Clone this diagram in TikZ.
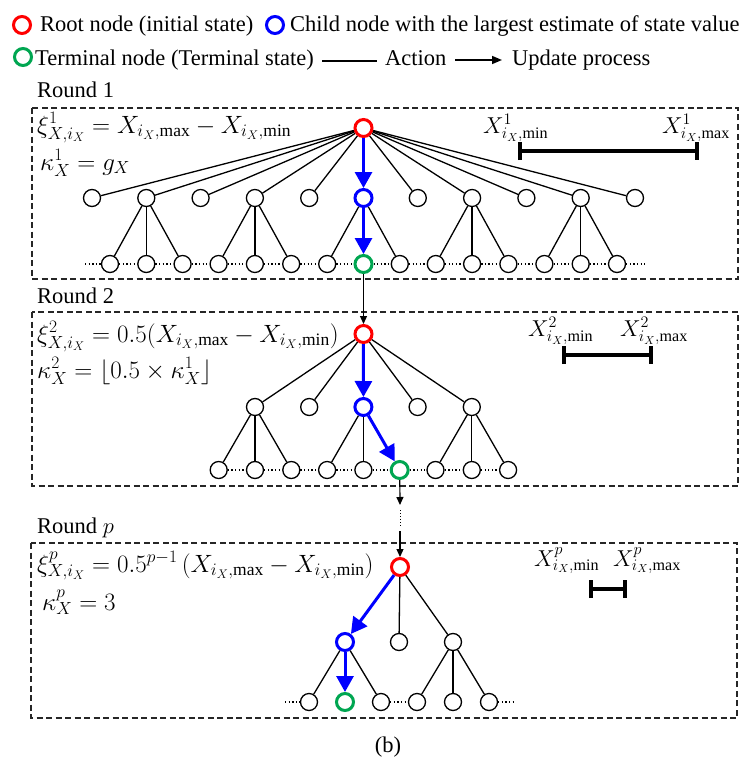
\RequirePackage{fix-cm}
\documentclass[tikz,border=0pt]{standalone}
\usepackage{fontspec}
\setmainfont{Liberation Serif}
\usetikzlibrary{arrows.meta}
\definecolor{tgreen}{RGB}{0,166,81}
\begin{document}
\begin{tikzpicture}[x=1pt,y=-1pt,
  nd/.style={circle,draw,line width=1.3pt,minimum size=17pt,inner sep=0pt,fill=white},
  rootn/.style={nd,draw=red,line width=3pt},
  bestn/.style={nd,draw=blue,line width=3pt},
  termn/.style={nd,draw=tgreen,line width=3pt},
  edge/.style={line width=1.3pt},
  barr/.style={draw=blue,line width=3pt,-{Triangle[width=17pt,length=16pt]}},
  upd/.style={line width=1.2pt,-{Triangle[width=7pt,length=8pt]}},
  dots/.style={line width=1.3pt,dash pattern=on 1.3pt off 2.3pt},
  dbox/.style={line width=1.4pt,dash pattern=on 6pt off 3.5pt,draw=black!85},
  txt/.style={inner sep=0pt,anchor=base west,font=\fontsize{22.5}{27}\selectfont},
  mtxt/.style={inner sep=0pt,anchor=base west,font=\fontsize{25}{30}\selectfont},
  xtxt/.style={inner sep=0pt,anchor=base west,font=\fontsize{23}{28}\selectfont},
  rng/.style={line width=3.8pt,{Bar[width=18pt]}-{Bar[width=18pt]}},
  ]
\useasboundingbox (0,0) rectangle (751,765);

% ---------- legend ----------
\node[rootn] (lr) at (22,25) {};
\node[txt] (tr) at (40,32) {Root node (initial state)};
\node[bestn] (lb) at (275,25) {};
\node[txt] (tb) at (290,32) {Child node with the largest estimate of state value};
\node[termn] (lg) at (23,57) {};
\node[txt] (tg) at (35,66) {Terminal node (Terminal state)};
\coordinate (la1) at (322,61);
\coordinate (la2) at (377,61);
\draw[edge] (la1) -- (la2);
\node[txt] (ta) at (385,66) {Action};
\coordinate (lu1) at (455,60);
\coordinate (lu2) at (502,60);
\draw[line width=1.5pt,-{Triangle[width=8pt,length=10pt]}] (lu1) -- (lu2);
\node[txt] (tu) at (512,66) {Update process};

% ---------- Round 1 ----------
\node[txt] (R1) at (37,98) {Round 1};
\draw[dbox] (32,108) rectangle (738,279);
\node[mtxt] (f11) at (37,133) {$\xi^{1}_{X,i_X} = X_{i_X,\mathrm{max}} - X_{i_X,\mathrm{min}}$};
\node[mtxt] (f12) at (40,170) {$\kappa^{1}_{X} = g_X$};

\node[rootn] (r1) at (363.5,128) {};
\foreach \i in {0,...,10}{
  \ifnum\i=5 \def\st{bestn}\else\def\st{nd}\fi
  \node[\st] (a\i) at ({92+54.3*\i},198) {};
}
\foreach \p in {1,3,5,7,9}{
  \foreach \j in {0,1,2}{
    \ifnum\p\j=51 \def\st{termn}\else\def\st{nd}\fi
    \node[\st] (l\p\j) at ({92+54.3*\p+36.3*(\j-1)},264) {};
  }
}
\foreach \i in {0,...,10}{
  \ifnum\i=5 \else \draw[edge] (r1) -- (a\i); \fi
}
\foreach \p in {1,3,5,7,9}{
  \foreach \j in {0,1,2}{
    \ifnum\p\j=51 \else \draw[edge] (a\p) -- (l\p\j); \fi
  }
}
\draw[barr] (r1) -- (a5);
\draw[barr] (a5) -- (l51);
\coordinate (s1) at (85,264);
\coordinate (e1) at (646,264);
\draw[dots] (s1) -- (l10);
\foreach \u/\v in {10/11,11/12,12/30,30/31,31/32,32/50,50/51,51/52,52/70,70/71,71/72,72/90,90/91,91/92}
  \draw[dots] (l\u) -- (l\v);
\draw[dots] (l92) -- (e1);

\coordinate (g1a) at (518,151);
\coordinate (g1b) at (699,151);
\draw[rng] (g1a) -- (g1b);
\node[xtxt] (x1a) at (483,133) {$X^{1}_{i_X,\mathrm{min}}$};
\node[xtxt] (x1b) at (662,133) {$X^{1}_{i_X,\mathrm{max}}$};

% ---------- Round 2 ----------
\node[txt] (R2) at (37,303) {Round 2};
\draw[dbox] (32,312) rectangle (738,486);
\node[mtxt] (f21) at (37,342) {$\xi^{2}_{X,i_X} = 0.5(X_{i_X,\mathrm{max}} - X_{i_X,\mathrm{min}})$};
\node[mtxt] (f22) at (37,378) {$\kappa^{2}_{X} = \lfloor 0.5\times\kappa^{1}_{X}\rfloor$};

\node[rootn] (r2) at (363.5,334) {};
\foreach \i in {0,...,4}{
  \ifnum\i=2 \def\st{bestn}\else\def\st{nd}\fi
  \node[\st] (b\i) at ({255+54.2*\i},407) {};
}
\foreach \p in {0,2,4}{
  \foreach \j in {0,1,2}{
    \ifnum\p\j=22 \def\st{termn}\else\def\st{nd}\fi
    \node[\st] (m\p\j) at ({255+54.2*\p+36.3*(\j-1)},470) {};
  }
}
\foreach \i in {0,1,3,4} \draw[edge] (r2) -- (b\i);
\foreach \p in {0,2,4}{
  \foreach \j in {0,1,2}{
    \ifnum\p\j=22 \else \draw[edge] (b\p) -- (m\p\j); \fi
  }
}
\draw[barr] (r2) -- (b2);
\draw[barr] (b2) -- (m22);
\foreach \u/\v in {00/01,01/02,02/20,20/21,21/22,22/40,40/41,41/42}
  \draw[dots] (m\u) -- (m\v);

\coordinate (g2a) at (562,355);
\coordinate (g2b) at (653,355);
\draw[rng] (g2a) -- (g2b);
\node[xtxt] (x2a) at (528,336) {$X^{2}_{i_X,\mathrm{min}}$};
\node[xtxt] (x2b) at (620,336) {$X^{2}_{i_X,\mathrm{max}}$};

\draw[upd] (l51) -- (r2);

% ---------- Round p ----------
\coordinate (q1) at (400,505);
\coordinate (q2) at (400,510);
\coordinate (q3) at (400,526);
\coordinate (q4) at (400,531);
\node[txt] (Rp) at (37,533) {Round $p$};
\draw[dbox] (31,543) rectangle (737,718);
\node[mtxt] (fp1) at (37,572) {$\xi^{p}_{X,i_X} = 0.5^{p-1}\,(X_{i_X,\mathrm{max}} - X_{i_X,\mathrm{min}})$};
\node[mtxt] (fp2) at (42,610) {$\kappa^{p}_{X} = 3$};

\node[rootn] (rp) at (400,567) {};
\node[bestn] (c0) at (345,642) {};
\node[nd] (c1) at (399,642) {};
\node[nd] (c2) at (453,642) {};
\node[nd] (n00) at (309,702) {};
\node[termn] (n01) at (345,702) {};
\node[nd] (n02) at (381,702) {};
\node[nd] (n20) at (417,702) {};
\node[nd] (n21) at (453,702) {};
\node[nd] (n22) at (489,702) {};
\draw[edge] (rp) -- (c1);
\draw[edge] (rp) -- (c2);
\draw[edge] (c0) -- (n00);
\draw[edge] (c0) -- (n02);
\foreach \j in {0,1,2} \draw[edge] (c2) -- (n2\j);
\draw[barr] (rp) -- (c0);
\draw[barr] (c0) -- (n01);
\coordinate (s3) at (285,702);
\coordinate (e3) at (516,702);
\draw[dots] (s3) -- (n00);
\draw[dots] (n02) -- (n20);
\draw[dots] (n22) -- (e3);

\coordinate (gpa) at (589,589);
\coordinate (gpb) at (627,589);
\draw[rng] (gpa) -- (gpb);
\node[xtxt] (xpa) at (534,566) {$X^{p}_{i_X,\mathrm{min}}$};
\node[xtxt] (xpb) at (613,566) {$X^{p}_{i_X,\mathrm{max}}$};

\draw[upd] (m22) -- (q1);
\draw[line width=1pt,dash pattern=on 1pt off 2pt] (q2) -- (q3);
\draw[upd] (q4) -- (rp);

\node[txt,anchor=base] (cap) at (388,752) {(b)};
\end{tikzpicture}
\end{document}
